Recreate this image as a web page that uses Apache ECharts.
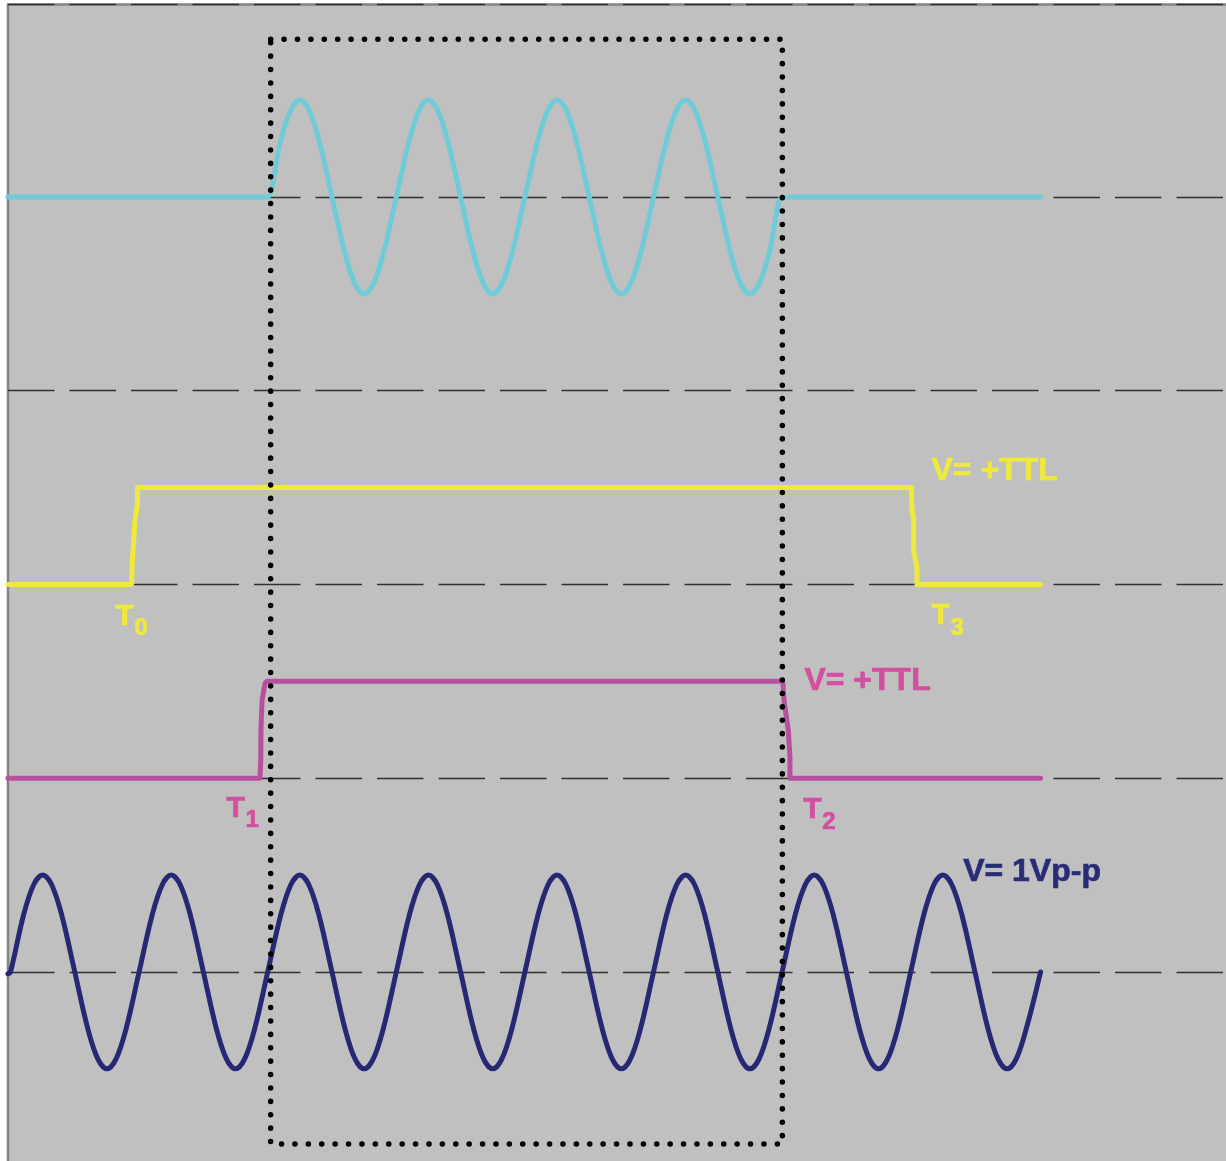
<!DOCTYPE html>
<html><head><meta charset="utf-8">
<script src="https://cdn.jsdelivr.net/npm/echarts@6/dist/echarts.min.js"></script>
<style>html,body{margin:0;padding:0;background:#fff;}#c{width:1226px;height:1161px;}</style>
</head><body><div id="c"></div>
<script>
// x: time measured in carrier cycles, y: volts (each trace has its own 1 V baseline level)

// Dark blue: continuous carrier, 1 Vp-p around level 1
const carrierTrace = [
 [-0.02,0.99],
 [0,1.00],[0.10,1.29],[0.18,1.45],[0.25,1.50],[0.32,1.45],[0.40,1.29],[0.50,1.00],[0.60,0.71],[0.68,0.55],[0.75,0.50],[0.82,0.55],[0.90,0.71],
 [1,1.00],[1.10,1.29],[1.18,1.45],[1.25,1.50],[1.32,1.45],[1.40,1.29],[1.50,1.00],[1.60,0.71],[1.68,0.55],[1.75,0.50],[1.82,0.55],[1.90,0.71],
 [2,1.00],[2.10,1.29],[2.18,1.45],[2.25,1.50],[2.32,1.45],[2.40,1.29],[2.50,1.00],[2.60,0.71],[2.68,0.55],[2.75,0.50],[2.82,0.55],[2.90,0.71],
 [3,1.00],[3.10,1.29],[3.18,1.45],[3.25,1.50],[3.32,1.45],[3.40,1.29],[3.50,1.00],[3.60,0.71],[3.68,0.55],[3.75,0.50],[3.82,0.55],[3.90,0.71],
 [4,1.00],[4.10,1.29],[4.18,1.45],[4.25,1.50],[4.32,1.45],[4.40,1.29],[4.50,1.00],[4.60,0.71],[4.68,0.55],[4.75,0.50],[4.82,0.55],[4.90,0.71],
 [5,1.00],[5.10,1.29],[5.18,1.45],[5.25,1.50],[5.32,1.45],[5.40,1.29],[5.50,1.00],[5.60,0.71],[5.68,0.55],[5.75,0.50],[5.82,0.55],[5.90,0.71],
 [6,1.00],[6.10,1.29],[6.18,1.45],[6.25,1.50],[6.32,1.45],[6.40,1.29],[6.50,1.00],[6.60,0.71],[6.68,0.55],[6.75,0.50],[6.82,0.55],[6.90,0.71],
 [7,1.00],[7.10,1.29],[7.18,1.45],[7.25,1.50],[7.32,1.45],[7.40,1.29],[7.50,1.00],[7.60,0.71],[7.68,0.55],[7.75,0.50],[7.82,0.55],[7.90,0.71],
 [8.01,1.00]
];

// Magenta: inner gate T1..T2, +TTL around level 2
const innerGateTrace = [
 [-0.02,2.0],[1.940,2.0],[1.946,2.09],[1.948,2.26],[1.956,2.40],[1.979,2.49],[1.995,2.50],
 [6.005,2.50],[6.017,2.39],[6.048,2.25],[6.061,2.11],[6.061,2.0],[8.01,2.0]
];

// Yellow: outer gate T0..T3, +TTL around level 3
const outerGateTrace = [
 [-0.02,3.0],[0.941,3.0],[0.946,3.10],[0.955,3.20],[0.968,3.33],[0.988,3.42],[0.988,3.50],
 [7.008,3.50],[7.008,3.40],[7.023,3.33],[7.023,3.17],[7.049,3.09],[7.049,3.0],[8.01,3.0]
];

// Cyan: gated burst (T1..T2) around level 5
const burstTrace = [
 [-0.02,5.00],[1.98,5.00],
 [2,5.00],[2.10,5.29],[2.18,5.45],[2.25,5.50],[2.32,5.45],[2.40,5.29],[2.50,5.00],[2.60,4.71],[2.68,4.55],[2.75,4.50],[2.82,4.55],[2.90,4.71],
 [3,5.00],[3.10,5.29],[3.18,5.45],[3.25,5.50],[3.32,5.45],[3.40,5.29],[3.50,5.00],[3.60,4.71],[3.68,4.55],[3.75,4.50],[3.82,4.55],[3.90,4.71],
 [4,5.00],[4.10,5.29],[4.18,5.45],[4.25,5.50],[4.32,5.45],[4.40,5.29],[4.50,5.00],[4.60,4.71],[4.68,4.55],[4.75,4.50],[4.82,4.55],[4.90,4.71],
 [5,5.00],[5.10,5.29],[5.18,5.45],[5.25,5.50],[5.32,5.45],[5.40,5.29],[5.50,5.00],[5.60,4.71],[5.68,4.55],[5.75,4.50],[5.82,4.55],[5.90,4.71],
 [6.00,5.00],[6.02,5.00],[8.01,5.00]
];

// Dotted observation window
const windowBox = [[2.023,5.814],[6.002,5.814],[6.002,0.112],[2.023,0.112],[2.023,5.814]];

// Annotation texts and their anchors (x in cycles, y in volts)
const ttlLabels = [
 {text:'V= +TTL', at:[7.158,3.60], trace:'outer'},
 {text:'V= +TTL', at:[6.170,2.516], trace:'inner'},
 {text:'V= 1Vp-p', at:[7.404,1.53], trace:'carrier'}
];
const timeLabels = [
 {main:'T', sub:'0', at:[0.8126,2.85], trace:'outer'},
 {main:'T', sub:'3', at:[7.158,2.852], trace:'outer'},
 {main:'T', sub:'1', at:[1.676,1.858], trace:'inner'},
 {main:'T', sub:'2', at:[6.160,1.852], trace:'inner'}
];

const colors = {
 carrier:'#262873', carrierText:'#282c77',
 inner:'#b6509f', innerText:'#d34fa0',
 outer:'#efe93b', outerText:'#efe93b',
 burst:'#6fcbd8'
};

const chart = echarts.init(document.getElementById('c'), null, {renderer:'canvas'});

const xMin = -0.0194, xMax = 9.483;
const lineSeries = (name, data, color, smooth) => ({
 name, type:'line', data, smooth: smooth ? 0.35 : false, symbol:'none', z:3,
 lineStyle:{color, width:5, cap:'round', join:'round'}
});
const FONT = 'Liberation Sans, Arial, Helvetica, sans-serif';
const labelScatter = (name, items) => ({
 name, type:'scatter', z:6, symbolSize:1, itemStyle:{color:'rgba(0,0,0,0)', opacity:1},
 emphasis:{disabled:true}, data: items
});
const textStyle = (trace, size) => ({
 color: colors[trace+'Text'], fontFamily:FONT, fontWeight:'bold', fontSize:size,
 textBorderColor: colors[trace+'Text'], textBorderWidth:0.7
});

chart.setOption({
 animation:false,
 backgroundColor:'#ffffff',
 grid:{left:8, top:4.5, width:1222, height:1161.24, outerBoundsMode:'none', containLabel:false,
   show:true, backgroundColor:'#c0c0c0', borderColor:'#838383', borderWidth:2.5},
 xAxis:{type:'value', min:xMin, max:xMax,
   axisLine:{show:false}, axisTick:{show:false}, axisLabel:{show:false}, splitLine:{show:false}},
 yAxis:{type:'value', min:0, max:5.9935, interval:1,
   axisLine:{show:false}, axisTick:{show:false}, axisLabel:{show:false},
   splitLine:{show:true, lineStyle:{color:'#303030', width:1.3, type:[46.5,15], dashOffset:0}}},
 series:[
  lineSeries('burst', burstTrace, colors.burst, true),
  lineSeries('outer', outerGateTrace, colors.outer, false),
  lineSeries('inner', innerGateTrace, colors.inner, false),
  lineSeries('carrier', carrierTrace, colors.carrier, true),
  {name:'window', type:'line', data:windowBox, symbol:'none', z:5,
   lineStyle:{color:'#000', width:5.5, type:[0.1,13.3], cap:'round'}},
  labelScatter('ttl', ttlLabels.map(l => ({value:l.at, label:Object.assign({
     show:true, position:'right', distance:0, offset:[0,3], formatter:l.text}, textStyle(l.trace,32))}))),
  labelScatter('timeMain', timeLabels.map(l => ({value:l.at, label:Object.assign({
     show:true, position:'right', distance:0, offset:[0,3], formatter:l.main}, textStyle(l.trace,30))}))),
  labelScatter('timeSub', timeLabels.map(l => ({value:l.at, label:Object.assign({
     show:true, position:'right', distance:0, offset:[19,15], formatter:l.sub}, textStyle(l.trace,24))})))
 ]
});
</script>
</body></html>
